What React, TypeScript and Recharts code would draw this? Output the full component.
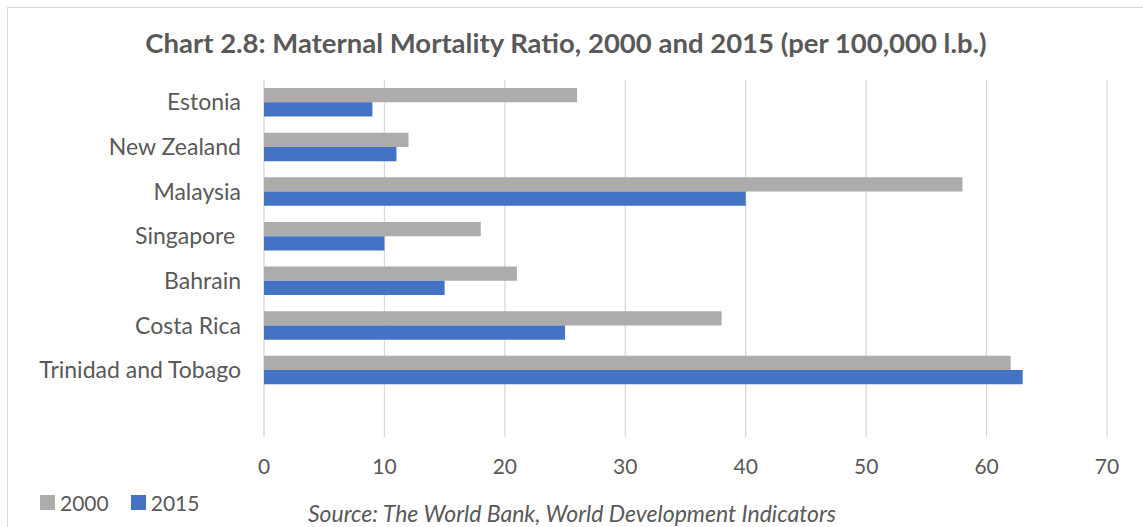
import React from 'react';
import { BarChart, Bar, XAxis, YAxis, CartesianGrid, Legend } from 'recharts';

const countries = ['Estonia', 'New Zealand', 'Malaysia', 'Singapore\u00A0', 'Bahrain', 'Costa Rica', 'Trinidad and Tobago'];
const mmr2000 = [26, 12, 58, 18, 21, 38, 62];
const mmr2015 = [9, 11, 40, 10, 15, 25, 63];
const xTicks = [0, 10, 20, 30, 40, 50, 60, 70];

const data = countries.map((name, i) => ({ name, y2000: mmr2000[i], y2015: mmr2015[i] }));

const FONT = 'Lato, "Open Sans", sans-serif';
const TEXT = '#595959';

function LegendBox({ payload }: any) {
  return (
    <div style={{ display: 'flex', fontFamily: FONT, fontSize: 21, color: TEXT }}>
      {(payload || []).map((p: any) => (
        <div key={p.value} style={{ display: 'flex', alignItems: 'center', marginRight: 22 }}>
          <span style={{ width: 15, height: 15, background: p.color, display: 'inline-block', marginRight: 5 }} />
          <span>{p.value}</span>
        </div>
      ))}
    </div>
  );
}

export default function App() {
  return (
    <div style={{ position: 'absolute', left: 0, top: 0, width: 1143, height: 527, background: '#fff', overflow: 'hidden' }}>
      <div style={{ position: 'absolute', left: 7, top: 7, width: 1200, height: 600, border: '1px solid #D9D9D9' }} />
      <div
        style={{
          position: 'absolute', top: 26, left: 0, width: 1132, textAlign: 'center',
          fontFamily: FONT, fontWeight: 'bold', fontSize: 27.5, color: TEXT,
        }}
      >
        Chart 2.8: Maternal Mortality Ratio, 2000 and 2015 (per 100,000 l.b.)
      </div>
      <BarChart
        width={1143}
        height={527}
        data={data}
        layout="vertical"
        margin={{ top: 80, right: 36, bottom: 60, left: 0 }}
        barGap={0}
        style={{ position: 'absolute', left: 0, top: 0 }}
      >
        <CartesianGrid horizontal={false} stroke="#D9D9D9" strokeWidth={1.3} />
        <XAxis
          type="number"
          domain={[0, 70]}
          ticks={xTicks}
          height={30}
          axisLine={false}
          tickLine={false}
          tickSize={0}
          tickMargin={22}
          tick={{ fill: TEXT, fontSize: 21, fontFamily: FONT }}
        />
        <YAxis
          type="category"
          dataKey="name"
          width={264}
          padding={{ top: 0, bottom: 44.6 }}
          axisLine={false}
          tickLine={false}
          tickSize={0}
          tickMargin={23}
          interval={0}
          tick={{ fill: TEXT, fontSize: 23, fontFamily: FONT }}
        />
        <Legend
          layout="horizontal"
          verticalAlign="middle"
          align="center"
          wrapperStyle={{ left: 40, top: 490, width: 300 }}
          content={<LegendBox />}
        />
        <Bar dataKey="y2000" name="2000" fill="#AEABAB" barSize={14.3} isAnimationActive={false} />
        <Bar dataKey="y2015" name="2015" fill="#4472C4" barSize={14.3} isAnimationActive={false} />
      </BarChart>
      <div
        style={{
          position: 'absolute', top: 499, left: 0, width: 1144, textAlign: 'center',
          fontFamily: FONT, fontStyle: 'italic', fontSize: 23, color: TEXT,
        }}
      >
        Source: The World Bank, World Development Indicators
      </div>
    </div>
  );
}
